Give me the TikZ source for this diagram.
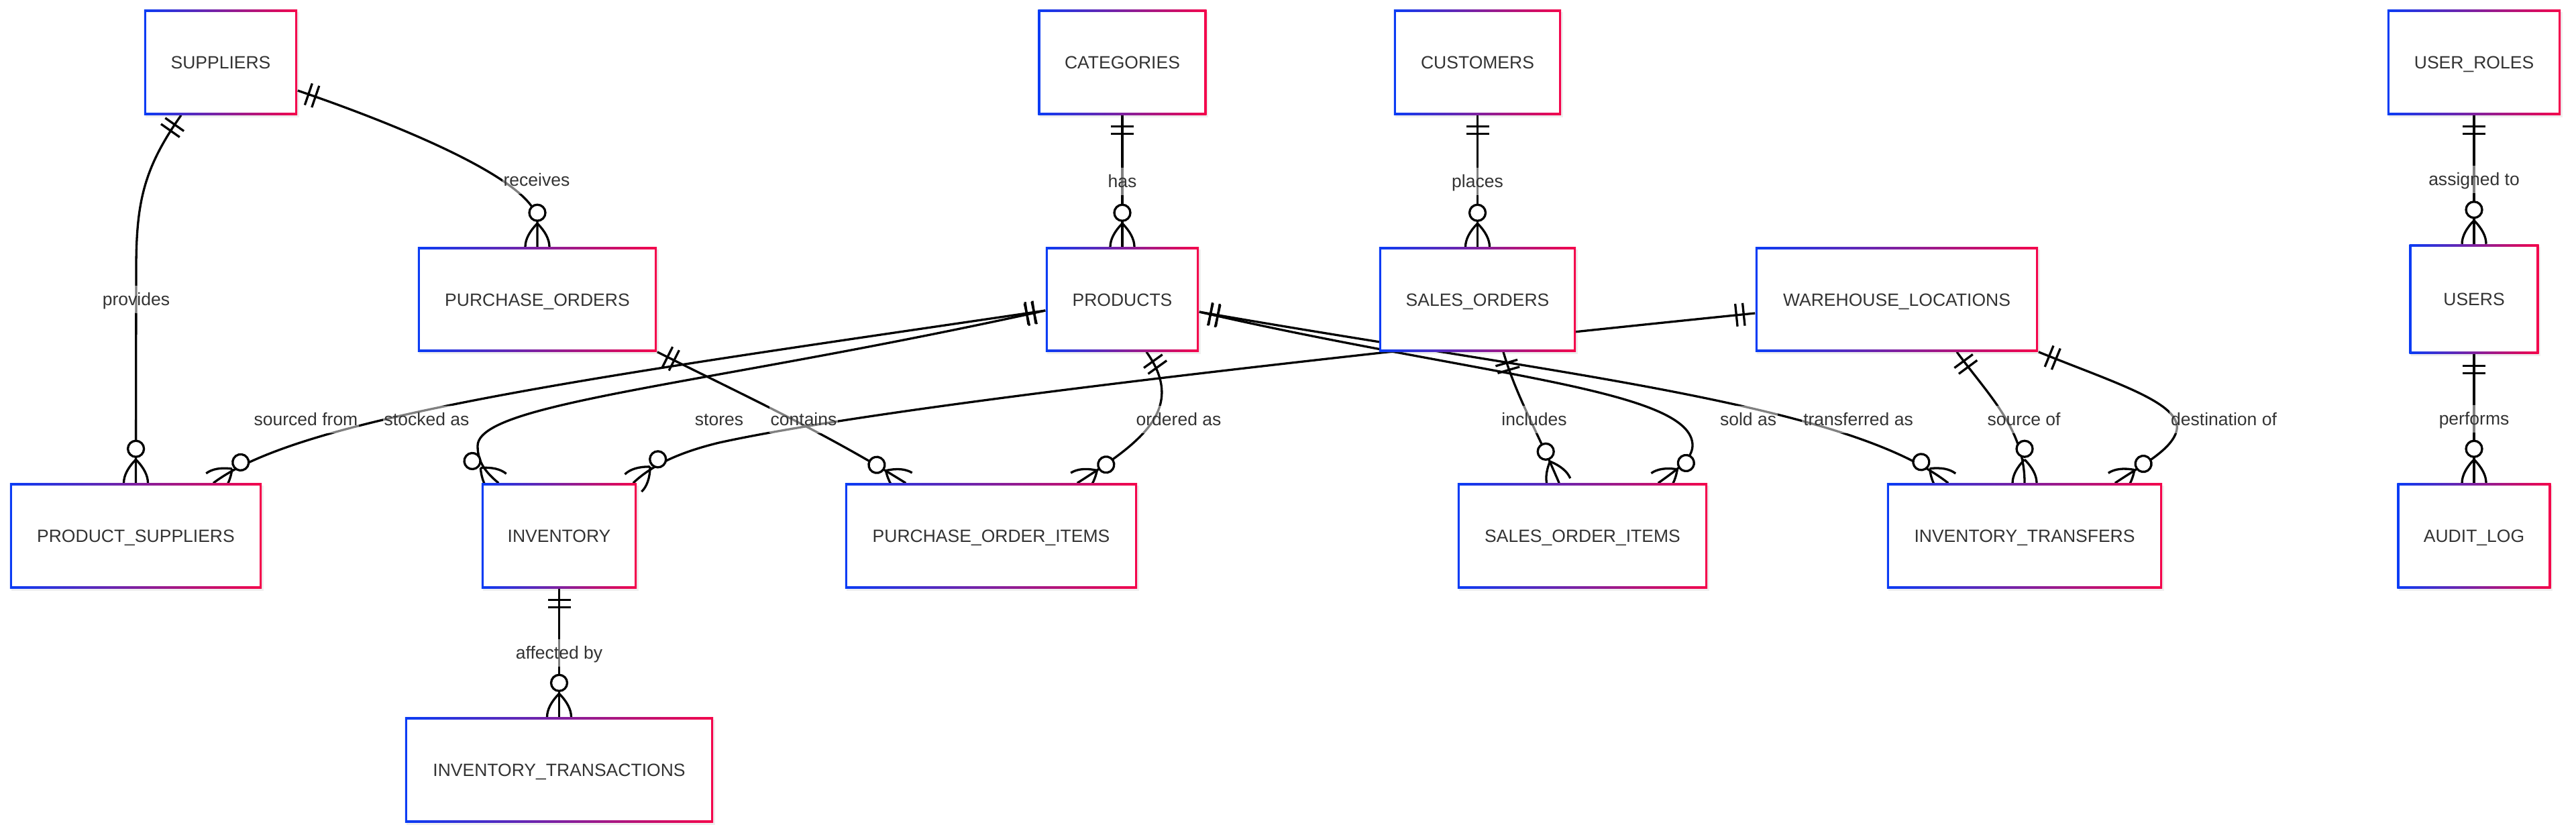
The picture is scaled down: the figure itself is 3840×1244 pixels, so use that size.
\documentclass[tikz,border=0pt]{standalone}
\usepackage{fontspec}
\setmainfont{Liberation Sans}
\usetikzlibrary{calc, decorations.markings, backgrounds, shadows}
\definecolor{blueedge}{RGB}{10,60,245}
\definecolor{rededge}{RGB}{245,5,75}
\definecolor{textgray}{RGB}{51,51,51}

\begin{document}
\begin{tikzpicture}[x=0.01cm, y=-0.01cm,
	entity/.style={inner sep=0pt, minimum height=1.56cm, left color=blueedge, right color=rededge,
		text=textgray, font=\fontsize{7.54}{9}\selectfont, text height=1.9mm, text depth=0pt,
		drop shadow={opacity=0.12, shadow xshift=0.25mm, shadow yshift=-0.35mm},
		path picture={\fill[white] ([shift={(0.33mm,0.33mm)}]path picture bounding box.south west)
			rectangle ([shift={(-0.33mm,-0.33mm)}]path picture bounding box.north east);}},
	lbl/.style={font=\fontsize{7.54}{9}\selectfont, text=textgray, fill=white, fill opacity=0.5,
		text opacity=1, inner xsep=0.2mm, inner ysep=0.75mm, text height=2.2mm, text depth=0.4mm},
	rel/.style={line width=0.33mm, black},
	oneend/.style={postaction={decorate, decoration={markings, mark=at position 0 with {
		\draw[line width=0.33mm] (17,-17) -- (17,17) (28,-17) -- (28,17);}}}},
	manyend/.style={postaction={decorate, decoration={markings, mark=at position 0.9999 with {
		\draw[line width=0.33mm] (-35,0) .. controls (-23,12) and (-11,18) .. (0,18)
			(-35,0) .. controls (-23,-12) and (-11,-18) .. (0,-18);
		\draw[line width=0.33mm, fill=white] (-51,0) circle[radius=12];}}}}
	]
	\useasboundingbox (0,0) rectangle (3840,1244);

	\node[entity, minimum width=2.28cm] (sup) at (329,93) {SUPPLIERS};
	\node[entity, minimum width=2.51cm] (cat) at (1673,93) {CATEGORIES};
	\node[entity, minimum width=2.49cm] (cust) at (2202.5,93) {CUSTOMERS};
	\node[entity, minimum width=2.58cm] (role) at (3688,93) {USER\_ROLES};

	\node[entity, minimum width=3.56cm, minimum height=1.55cm] (po) at (801,446.5) {PURCHASE\_ORDERS};
	\node[entity, minimum width=2.28cm, minimum height=1.55cm] (prod) at (1673,446.5) {PRODUCTS};
	\node[entity, minimum width=2.93cm, minimum height=1.55cm] (so) at (2202.5,446.5) {SALES\_ORDERS};
	\node[entity, minimum width=4.21cm, minimum height=1.55cm] (wh) at (2827.5,446.5) {WAREHOUSE\_LOCATIONS};
	\node[entity, minimum width=1.93cm, minimum height=1.63cm] (usr) at (3688,446) {USERS};

	\node[entity, minimum width=3.75cm] (ps) at (202.5,799) {PRODUCT\_SUPPLIERS};
	\node[entity, minimum width=2.31cm] (inv) at (833.5,799) {INVENTORY};
	\node[entity, minimum width=4.35cm] (poi) at (1477.5,799) {PURCHASE\_ORDER\_ITEMS};
	\node[entity, minimum width=3.72cm] (soi) at (2359,799) {SALES\_ORDER\_ITEMS};
	\node[entity, minimum width=4.10cm] (it) at (3018,799) {INVENTORY\_TRANSFERS};
	\node[entity, minimum width=2.29cm] (log) at (3688,799) {AUDIT\_LOG};

	\node[entity, minimum width=4.59cm] (itx) at (833.5,1148) {INVENTORY\_TRANSACTIONS};

	\begin{scope}[on background layer]
		\fill[white] (0,0) rectangle (3840,1244);

		\draw[rel, oneend, manyend] ($(sup.south)+(-59,0)$) .. controls (215,250) and (203,300) .. (203,400) -- (ps.north);
		\draw[rel, oneend, manyend] ($(sup.east)+(0,42)$) .. controls (590,185) and (801,270) .. (801,330) -- (po.north);
		\draw[rel, oneend, manyend] (cat.south) -- node[lbl] (lhas) {has} (prod.north);
		\draw[rel, oneend, manyend] (cust.south) -- node[lbl] (lplc) {places} (so.north);
		\draw[rel, oneend, manyend] (role.south) -- node[lbl] (lasg) {assigned to} (usr.north);
		\draw[rel, oneend, manyend] (usr.south) -- node[lbl] (lprf) {performs} (log.north);
		\draw[rel, oneend, manyend] (inv.south) -- node[lbl] (laff) {affected by} (itx.north);

		\draw[rel, oneend, manyend] ($(prod.west)+(0,16.5)$) .. controls (900,560) and (450,620) .. ($(ps.north)+(115.5,0)$);
		\draw[rel, oneend, manyend] ($(prod.west)+(0,16.5)$) .. controls (1050,575) and (712,600) .. (712,665)
			.. controls (712,690) and (725,705) .. ($(inv.north west)+(26,0)$);
		\draw[rel, oneend, manyend] ($(wh.west)+(0,20.5)$) .. controls (1900,540) and (1300,610) .. (1072,660)
			.. controls (1010,675) and (970,695) .. ($(inv.north east)+(-6,0)$);
		\draw[rel, oneend, manyend] (po.south east) .. controls (1100,585) and (1230,645) .. ($(poi.north west)+(91,0)$);
		\draw[rel, oneend, manyend] ($(prod.south)+(36,0)$) .. controls (1770,610) and (1700,660) .. ($(poi.north east)+(-90,0)$);
		\draw[rel, oneend, manyend] ($(so.south)+(38.5,0)$) .. controls (2260,590) and (2290,640) .. ($(soi.north west)+(152,0)$);
		\draw[rel, oneend, manyend] ($(prod.east)+(0,18.5)$) .. controls (2200,560) and (2525,580) .. (2523,665)
			.. controls (2522,685) and (2500,700) .. ($(soi.north east)+(-74,0)$);
		\draw[rel, oneend, manyend] ($(prod.east)+(0,18.5)$) .. controls (2300,555) and (2750,600) .. ($(it.north west)+(92,0)$);
		\draw[rel, oneend, manyend] ($(wh.south)+(89.5,0)$) .. controls (2965,590) and (3018,640) .. (it.north);
		\draw[rel, oneend, manyend] (wh.south east) .. controls (3150,570) and (3250,600) .. (3245,640)
			.. controls (3240,670) and (3190,695) .. ($(it.north east)+(-71,0)$);
	\end{scope}

	\node[lbl] (lprov) at (203,446) {provides};
	\node[lbl] (lrecv) at (800,268) {receives};
	\node[lbl] (lsrc) at (456,625) {sourced from};
	\node[lbl] (lstk) at (636,625) {stocked as};
	\node[lbl] (lsto) at (1072,625) {stores};
	\node[lbl] (lcon) at (1198,625) {contains};
	\node[lbl] (lord) at (1757,625) {ordered as};
	\node[lbl] (linc) at (2287,625) {includes};
	\node[lbl] (lsold) at (2606,625) {sold as};
	\node[lbl] (ltrf) at (2770,625) {transferred as};
	\node[lbl] (lsrcof) at (3017,625) {source of};
	\node[lbl] (ldst) at (3315,625) {destination of};

\end{tikzpicture}
\end{document}
